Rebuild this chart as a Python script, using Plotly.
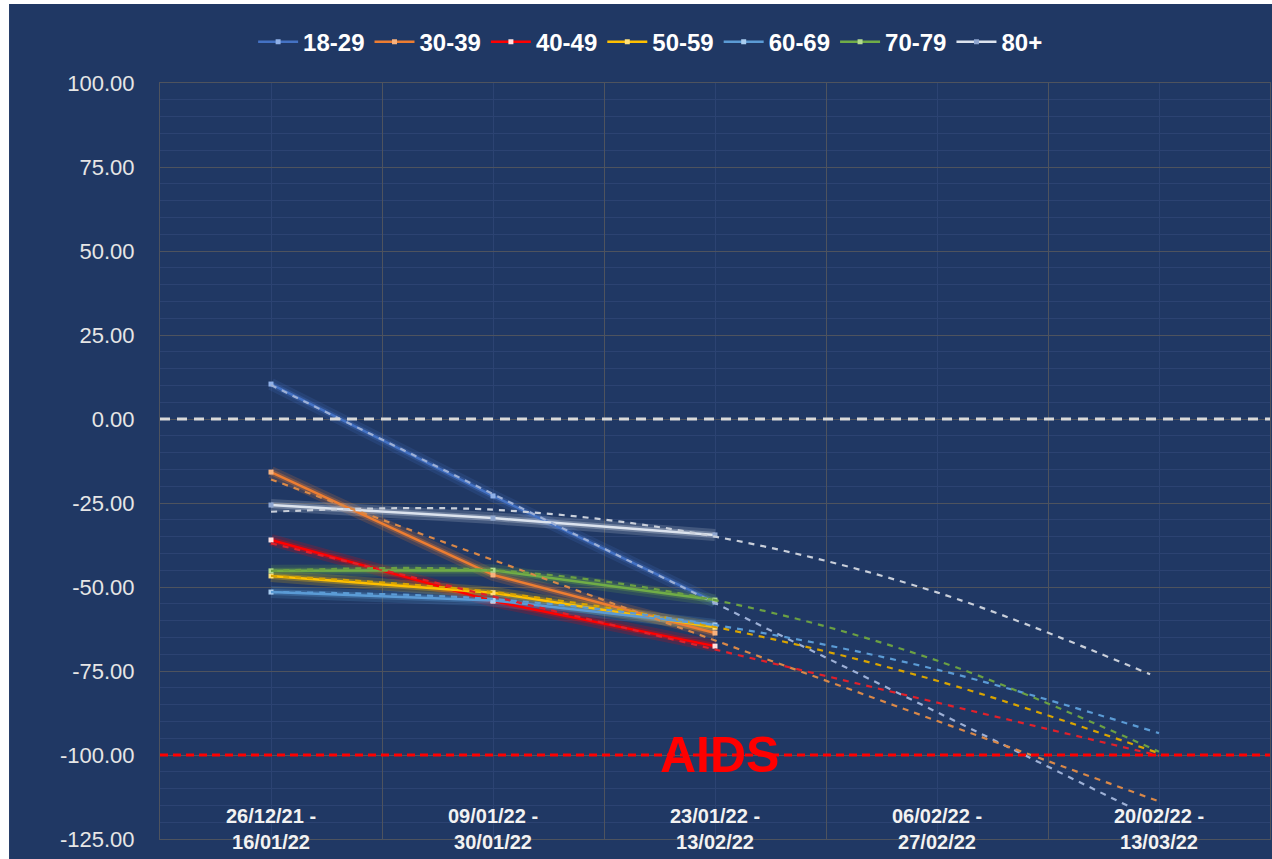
import plotly.graph_objects as go

# periods (x categories)
periods = ["26/12/21 -<br>16/01/22", "09/01/22 -<br>30/01/22", "23/01/22 -<br>13/02/22",
           "06/02/22 -<br>27/02/22", "20/02/22 -<br>13/03/22"]

groups = ["18-29", "30-39", "40-49", "50-59", "60-69", "70-79", "80+"]
colors = ["#4472C4", "#ED7D31", "#FF0000", "#FFC000", "#5B9BD5", "#70AD47", "#DCE3EE"]
marker_colors = ["#8FB0E8", "#F7B27E", "#FFE0E0", "#FFE07A", "#A9CDF0", "#B2DB8E", "#8FA6D0"]
trend_colors = ["#9DB0D6", "#D98848", "#E0202A", "#D9A400", "#5B9BD5", "#6BA043", "#C9CFDA"]
trend_shape = ["linear", "linear", "linear", "spline", "spline", "spline", "spline"]

# observed values for the first three periods
x_obs = [0, 1, 2]
v_18_29 = [10.4, -22.9, -54.5]
v_30_39 = [-15.8, -46.4, -63.7]
v_40_49 = [-36.0, -54.2, -67.6]
v_50_59 = [-46.7, -51.7, -62.0]
v_60_69 = [-51.5, -54.0, -61.3]
v_70_79 = [-45.2, -45.0, -53.9]
v_80 = [-25.6, -29.5, -34.5]
observed = [v_18_29, v_30_39, v_40_49, v_50_59, v_60_69, v_70_79, v_80]

# trend lines
t_18_29 = ([0, 1, 2, 3, 3.88], [10.1, -22.3, -54.8, -87.2, -115.8])
t_30_39 = ([0, 1, 2, 3, 4], [-18.0, -42.0, -65.9, -89.9, -113.8])
t_40_49 = ([0, 1, 2, 3, 4], [-37.0, -52.8, -68.6, -84.4, -100.2])
t_50_59 = ([0, 1, 2, 3, 4], [-46.7, -51.5, -61.9, -77.9, -99.5])
t_60_69 = ([0, 1, 2, 3, 4], [-51.5, -53.6, -61.3, -74.6, -93.5])
t_70_79 = ([0, 1, 2, 3, 4], [-45.2, -45.0, -53.9, -71.9, -99.0])
t_80 = ([0, 1, 2, 3, 3.96], [-27.6, -27.0, -35.0, -51.6, -76.0])
trends = [t_18_29, t_30_39, t_40_49, t_50_59, t_60_69, t_70_79, t_80]

y_ticks = [-125, -100, -75, -50, -25, 0, 25, 50, 75, 100]
y_ticktext = [f"{v:.2f}" for v in y_ticks]

zero_line = 0
aids_line = -100

bg = "#203864"
major_grid = "#4E535E"
minor_grid = "#2C4372"

fig = go.Figure()

# glow under the observed lines
for vals, c in zip(observed, colors):
    fig.add_trace(go.Scatter(x=x_obs, y=vals, mode="lines", line=dict(color=c, width=12),
                             opacity=0.18, showlegend=False, hoverinfo="skip"))
    fig.add_trace(go.Scatter(x=x_obs, y=vals, mode="lines", line=dict(color=c, width=6),
                             opacity=0.3, showlegend=False, hoverinfo="skip"))

for name, vals, c, mc in zip(groups, observed, colors, marker_colors):
    fig.add_trace(go.Scatter(
        x=x_obs, y=vals, mode="lines+markers", name=name,
        line=dict(color=c, width=2.5),
        marker=dict(color=mc, size=5, symbol="square"),
    ))

for (tx, ty), c, shp in zip(trends, trend_colors, trend_shape):
    fig.add_trace(go.Scatter(x=tx, y=ty, mode="lines", showlegend=False, hoverinfo="skip",
                             line=dict(color=c, width=2.2, dash="6px,6px", shape=shp)))

annotations = [dict(x=i, y=0.013, xref="x", yref="paper", text=p, showarrow=False,
                    font=dict(family="Liberation Sans", size=20, color="#F2F2F2", weight="bold"),
                    yanchor="middle") for i, p in enumerate(periods)]
annotations.append(dict(x=2.02, y=aids_line, xref="x", yref="y", text="AIDS", showarrow=False,
                        font=dict(family="Liberation Sans", size=50, color="#FF0000", weight="bold"),
                        yanchor="middle"))

fig.update_layout(
    width=1272, height=859,
    margin=dict(l=160, r=2, t=83, b=20),
    paper_bgcolor=bg, plot_bgcolor=bg,
    showlegend=True,
    legend=dict(orientation="h", x=0.442, xanchor="center", y=1.054, yanchor="middle",
                font=dict(family="Liberation Sans", size=24, color="#FFFFFF", weight="bold"),
                bgcolor="rgba(0,0,0,0)", itemwidth=40),
    annotations=annotations,
    shapes=[
        dict(type="line", xref="paper", yref="y", x0=0, x1=1, y0=zero_line, y1=zero_line,
             line=dict(color="#D9D9D9", width=3, dash="10px,7px")),
        dict(type="line", xref="paper", yref="y", x0=0, x1=1, y0=aids_line, y1=aids_line,
             line=dict(color="#FF0000", width=3, dash="8px,5px")),
        dict(type="rect", xref="paper", yref="paper", x0=-0.15, x1=-0.136, y0=-0.03, y1=1.12,
             fillcolor="white", line=dict(width=0)),
        dict(type="rect", xref="paper", yref="paper", x0=-0.15, x1=1.01, y0=1.1045, y1=1.12,
             fillcolor="white", line=dict(width=0)),
    ],
    xaxis=dict(range=[-0.5, 4.5], tickvals=[-0.5, 0.5, 1.5, 2.5, 3.5, 4.5], showticklabels=False,
               showgrid=True, gridcolor=major_grid, gridwidth=1, zeroline=False,
               showline=True, linecolor=major_grid, mirror=True,
               minor=dict(tickvals=[0, 1, 2, 3, 4], showgrid=True, gridcolor=minor_grid)),
    yaxis=dict(range=[-125, 100], tickmode="array", tickvals=y_ticks, ticktext=y_ticktext,
               tickfont=dict(family="Liberation Sans", size=22, color="#E6E6E6"),
               ticklabelstandoff=20,
               showgrid=True, gridcolor=major_grid, zeroline=False,
               showline=True, linecolor=major_grid, mirror=True,
               minor=dict(dtick=5, showgrid=True, gridcolor=minor_grid)),
)

fig.write_html("out.html", config={"displayModeBar": False},
               post_script="document.body.style.margin='0';document.body.style.overflow='hidden';")
